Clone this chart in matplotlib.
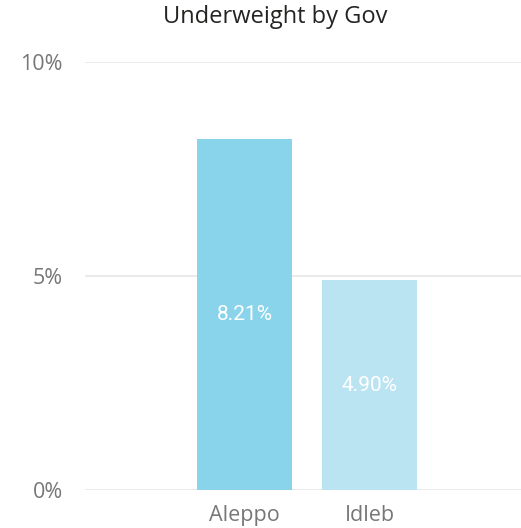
import matplotlib
matplotlib.use('agg')
import matplotlib.pyplot as plt
from matplotlib.ticker import FuncFormatter

# data
govs = ['Aleppo', 'Idleb']
values = [8.21, 4.90]
colors = ['#8AD4EB', '#BBE4F2']
yticks = [0, 5, 10]

plt.rcParams['font.family'] = ['Open Sans', 'DejaVu Sans']

fig = plt.figure(figsize=(5.21, 5.28), dpi=100)
ax = fig.add_axes([85 / 521, 38 / 528, 436 / 521, 428 / 528])

x = list(range(len(govs)))
bars = ax.bar(x, values, width=0.76, color=colors, zorder=3)

for b, v in zip(bars, values):
    ax.text(b.get_x() + b.get_width() / 2, v / 2, '%.2f%%' % v,
            ha='center', va='center', color='white', fontsize=15,
            family=['Roboto', 'DejaVu Sans'], zorder=4)

ax.set_xlim(-1.276, 2.212)
ax.set_ylim(0, 10)
ax.set_yticks(yticks)
ax.yaxis.set_major_formatter(FuncFormatter(lambda v, p: '%d%%' % v))
ax.set_xticks(x)
ax.set_xticklabels(govs)
ax.grid(axis='y', color='#E6E6E6', linewidth=1.2, zorder=0)
for s in ax.spines.values():
    s.set_visible(False)
ax.tick_params(axis='both', length=0, colors='#777777', labelsize=15.5)
ax.tick_params(axis='y', pad=16)
ax.tick_params(axis='x', pad=11)

fig.text(275 / 521, 1 - 17 / 528, 'Underweight by Gov', ha='center', va='center',
         fontsize=17, color='#252423')

fig.savefig('out.png', dpi=100)
